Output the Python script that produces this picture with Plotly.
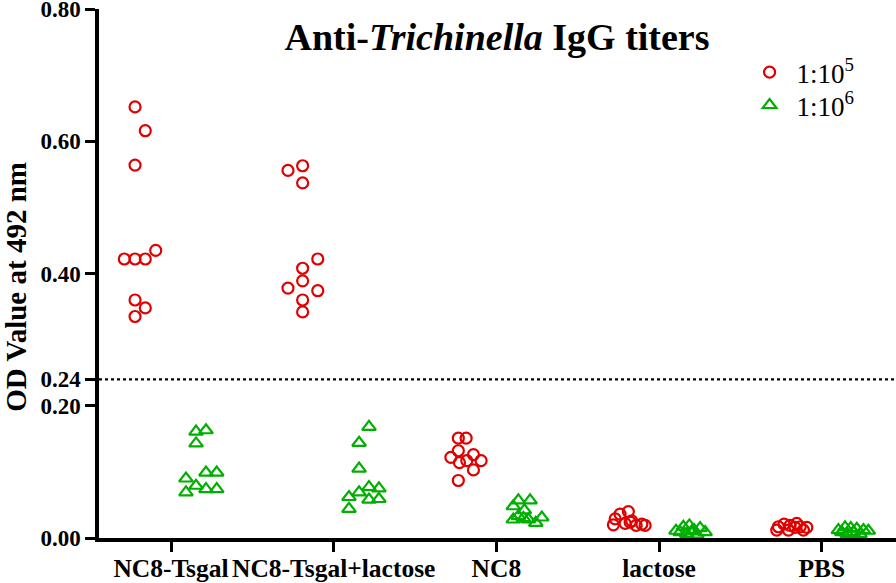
import plotly.graph_objects as go

groups = ["NC8-Tsgal", "NC8-Tsgal+lactose", "NC8", "lactose", "PBS"]
y_tick_vals = [0.00, 0.20, 0.24, 0.40, 0.60, 0.80]
y_tick_text = ["0.00", "0.20", "0.24", "0.40", "0.60", "0.80"]
cutoff = 0.24

# OD values, dilution 1:10^5
od5_nc8_tsgal = [0.652, 0.616, 0.564, 0.422, 0.422, 0.422, 0.435, 0.360, 0.348, 0.335]
od5_nc8_tsgal_lac = [0.556, 0.563, 0.537, 0.422, 0.408, 0.389, 0.378, 0.374, 0.360, 0.342]
od5_nc8 = [0.151, 0.151, 0.132, 0.122, 0.126, 0.114, 0.117, 0.117, 0.103, 0.087]
od5_lactose = [0.029, 0.036, 0.040, 0.022, 0.026, 0.019, 0.021, 0.019, 0.020, 0.024]
od5_pbs = [0.017, 0.021, 0.019, 0.016, 0.017, 0.016, 0.012, 0.012, 0.012, 0.022]

# OD values, dilution 1:10^6
od6_nc8_tsgal = [0.161, 0.163, 0.143, 0.090, 0.099, 0.099, 0.079, 0.069, 0.074, 0.074]
od6_nc8_tsgal_lac = [0.168, 0.144, 0.105, 0.077, 0.075, 0.069, 0.062, 0.058, 0.059, 0.044]
od6_nc8 = [0.057, 0.057, 0.048, 0.042, 0.028, 0.033, 0.028, 0.031, 0.023, 0.030]
od6_lactose = [0.011, 0.017, 0.019, 0.012, 0.015, 0.009, 0.006, 0.005, 0.009, 0.010]
od6_pbs = [0.012, 0.016, 0.015, 0.014, 0.012, 0.011, 0.006, 0.006, 0.009, 0.009]

# horizontal scatter offsets within each group (category units)
jit5_nc8_tsgal = [-0.221, -0.158, -0.221, -0.287, -0.221, -0.158, -0.094, -0.221, -0.158, -0.221]
jit5_nc8_tsgal_lac = [-0.281, -0.191, -0.191, -0.098, -0.191, -0.191, -0.281, -0.098, -0.191, -0.191]
jit5_nc8 = [-0.234, -0.186, -0.234, -0.280, -0.141, -0.227, -0.182, -0.094, -0.141, -0.234]
jit5_lactose = [-0.270, -0.240, -0.189, -0.209, -0.168, -0.141, -0.106, -0.086, -0.281, -0.178]
jit5_pbs = [-0.267, -0.232, -0.195, -0.164, -0.133, -0.092, -0.277, -0.205, -0.113, -0.154]

jit6_nc8_tsgal = [0.154, 0.215, 0.154, 0.092, 0.215, 0.281, 0.154, 0.092, 0.215, 0.281]
jit6_nc8_tsgal_lac = [0.217, 0.156, 0.156, 0.217, 0.278, 0.156, 0.094, 0.217, 0.278, 0.094]
jit6_nc8 = [0.135, 0.207, 0.104, 0.172, 0.104, 0.135, 0.197, 0.279, 0.242, 0.166]
jit6_lactose = [0.104, 0.149, 0.186, 0.215, 0.252, 0.283, 0.170, 0.232, 0.129, 0.201]
jit6_pbs = [0.102, 0.143, 0.178, 0.215, 0.256, 0.286, 0.157, 0.235, 0.123, 0.194]

od5 = [od5_nc8_tsgal, od5_nc8_tsgal_lac, od5_nc8, od5_lactose, od5_pbs]
od6 = [od6_nc8_tsgal, od6_nc8_tsgal_lac, od6_nc8, od6_lactose, od6_pbs]
jit5 = [jit5_nc8_tsgal, jit5_nc8_tsgal_lac, jit5_nc8, jit5_lactose, jit5_pbs]
jit6 = [jit6_nc8_tsgal, jit6_nc8_tsgal_lac, jit6_nc8, jit6_lactose, jit6_pbs]


def build(vals, jits):
    xs, ys = [], []
    for i, (v, j) in enumerate(zip(vals, jits)):
        xs += [i + d for d in j]
        ys += v
    return xs, ys


RED = "#E00000"
GREEN = "#00B000"
FONT = "Liberation Serif"

x5, y5 = build(od5, jit5)
x6, y6 = build(od6, jit6)

fig = go.Figure()
fig.add_trace(go.Scatter(
    x=x5, y=y5, mode="markers", name="1:10<sup>5</sup>", legend="legend",
    marker=dict(symbol="circle-open", size=11, color=RED, line=dict(width=2.2, color=RED)),
    cliponaxis=False,
))
fig.add_trace(go.Scatter(
    x=x6, y=y6, mode="markers", name="1:10<sup>6</sup>", legend="legend2",
    marker=dict(symbol="triangle-up-open", size=12, color=GREEN, line=dict(width=2.2, color=GREEN)),
    cliponaxis=False,
))

fig.add_shape(type="line", xref="paper", yref="y", x0=0, x1=1, y0=cutoff, y1=cutoff,
              line=dict(color="black", width=2.2, dash="dot"))

# y axis title as a rotated annotation
fig.add_annotation(
    text="<b>OD Value at 492 nm</b>", textangle=-90,
    xref="paper", yref="paper", x=-0.104, y=0.475, xanchor="center", yanchor="middle",
    showarrow=False, font=dict(family=FONT, size=29, color="black"),
)

legend_common = dict(
    xanchor="left", yanchor="top",
    font=dict(family=FONT, size=27, color="black"),
    bgcolor="rgba(0,0,0,0)", itemwidth=44,
)

fig.update_layout(
    width=896, height=583,
    margin=dict(l=99, r=0, t=9, b=45, autoexpand=False),
    paper_bgcolor="white", plot_bgcolor="white",
    font=dict(family=FONT, color="black"),
    title=dict(
        text="<b>Anti-<i>Trichinella</i> IgG titers</b>",
        x=0.5547, xanchor="center", y=0.9365, yanchor="middle",
        font=dict(family=FONT, size=38, color="black"),
    ),
    showlegend=True,
    legend=dict(x=0.8075, y=0.926, **legend_common),
    legend2=dict(x=0.8075, y=0.864, **legend_common),
    xaxis=dict(
        range=[-0.4425, 4.456], tickmode="array",
        tickvals=list(range(len(groups))), ticktext=groups, tickangle=0,
        showgrid=False, zeroline=False, automargin=False,
        showline=True, linecolor="black", linewidth=3.5,
        ticks="outside", ticklen=10, tickwidth=3, tickcolor="black",
        tickfont=dict(family=FONT, size=25.5, color="black", weight="bold"),
        ticklabeloverflow="allow", ticklabelstandoff=-5,
    ),
    yaxis=dict(
        range=[0, 0.8001], tickmode="array",
        tickvals=y_tick_vals, ticktext=y_tick_text,
        showgrid=False, zeroline=False, automargin=False,
        showline=True, linecolor="black", linewidth=3.5,
        ticks="outside", ticklen=10, tickwidth=3, tickcolor="black",
        tickfont=dict(family=FONT, size=23, color="black", weight="bold"),
        ticklabeloverflow="allow",
    ),
)

fig.write_html(
    "out.html",
    config={"displayModeBar": False},
    post_script="document.body.style.margin='0';document.body.style.overflow='hidden';",
)
